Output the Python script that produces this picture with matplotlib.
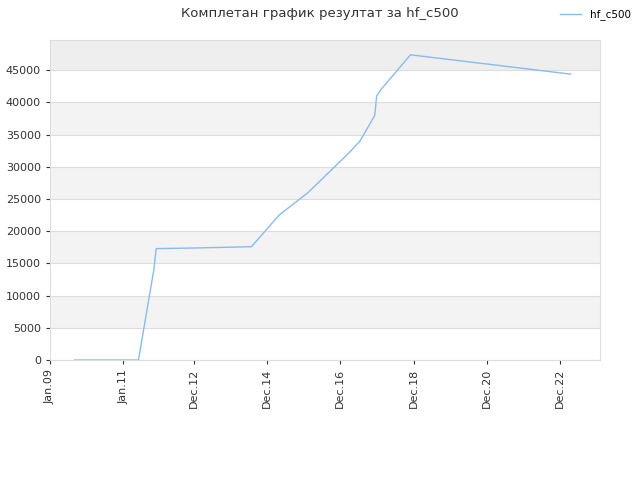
import matplotlib
matplotlib.use("Agg")
import matplotlib.pyplot as plt
import matplotlib.dates as mdates
from datetime import datetime

dates = ["2009-09-01","2011-06-01","2011-11-01","2011-11-25","2013-01-01","2014-07-01",
         "2015-04-01","2016-01-15","2017-02-15","2017-06-15","2017-11-10","2017-11-28",
         "2018-01-10","2018-11-01","2023-03-15"]
values = [0,0,14000,17300,17400,17600,22500,26000,32000,34000,38000,41000,42000,47400,44400]
tick_dates = ["2009-01-01","2011-01-01","2012-12-01","2014-12-01","2016-12-01",
              "2018-12-01","2020-12-01","2022-12-01"]
tick_labels = ["Jan.09","Jan.11","Dec.12","Dec.14","Dec.16","Dec.18","Dec.20","Dec.22"]

x = [datetime.fromisoformat(d) for d in dates]
fig = plt.figure(figsize=(6.4,4.8), dpi=100)
ax = fig.add_axes([50/640, 1-360/480, 550/640, 320/480])
ymax = 49700
for i, lo in enumerate(range(0, 50000, 5000)):
    if i % 2 == 1:
        ax.axhspan(lo, min(lo+5000, ymax), color="#eeeeee" if lo == 45000 else "#f3f3f3", zorder=0, lw=0)
ax.plot(x, values, color="#88bbee", lw=1, label="hf_c500")
ax.set_ylim(0, ymax)
ax.set_xlim(datetime(2009,1,1), datetime(2024,1,1))
ax.set_yticks(range(0, 50000, 5000))
ax.yaxis.grid(True, color="#dddddd", lw=0.8)
ax.set_axisbelow(True)
ax.set_xticks([datetime.fromisoformat(d) for d in tick_dates])
ax.set_xticklabels(tick_labels, rotation=90)
ax.tick_params(labelsize=8, colors="#333333", length=3)
for s in ax.spines.values():
    s.set_color("#dddddd")
fig.suptitle("Комплетан график резултат за hf_c500", x=0.5, y=0.985, fontsize=9.5, color="#333333")
fig.legend(loc="upper right", bbox_to_anchor=(1.0, 1.0), frameon=False, fontsize=7.5)
fig.savefig("out.png")
